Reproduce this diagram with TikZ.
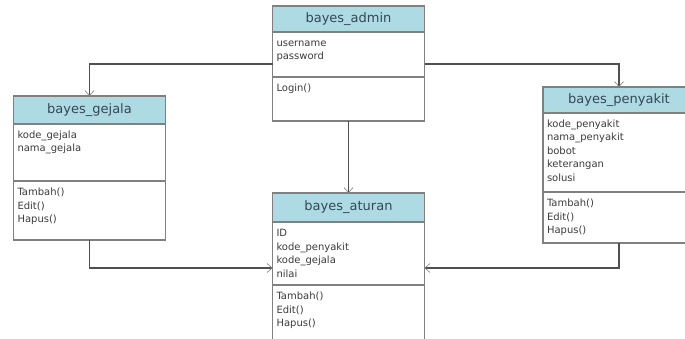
\documentclass[tikz,border=0pt]{standalone}
\usepackage{fontspec}
\setmainfont{DejaVu Sans}
\usetikzlibrary{positioning,arrows.meta}

\definecolor{headblue}{RGB}{174,218,228}
\definecolor{boxgray}{RGB}{128,128,128}
\definecolor{linegray}{RGB}{80,80,80}
\definecolor{titlegray}{RGB}{52,72,86}
\definecolor{textgray}{RGB}{60,60,60}

% compartment text: height, lines
\newcommand{\members}[2]{\parbox[t][#1][t]{144pt}{\rule{0pt}{14.5pt}#2}}

\tikzset{
  head/.style={draw=boxgray, fill=headblue, line width=1.2pt, minimum width=152pt,
    inner sep=0pt, outer sep=0pt, text=titlegray, font=\fontsize{13}{15}\selectfont},
  part/.style={draw=boxgray, fill=white, line width=1.2pt, inner xsep=4pt, inner ysep=0pt,
    outer sep=0pt, text=textgray, font=\fontsize{10}{13.5}\selectfont},
  link/.style={draw=linegray, line width=1.2pt,
    -{Straight Barb[length=5pt,width=9pt,line width=0.6pt,color=gray]}},
}

\begin{document}
\begin{tikzpicture}[x=1pt,y=1pt]
\clip (0,0) rectangle (685,-339);
\fill[white] (0,0) rectangle (685,-339);

\node (admin) [head, minimum height=26pt] at (348.5,-19) {bayes\_admin};
\node (adminAttr) [part, below=0pt of admin] {\members{45pt}{username\\password}};
\node (adminOps) [part, below=0pt of adminAttr] {\members{44pt}{Login()}};

\node (gejala) [head, minimum height=28pt] at (89.5,-110) {bayes\_gejala};
\node (gejalaAttr) [part, below=0pt of gejala] {\members{57pt}{kode\_gejala\\nama\_gejala}};
\node (gejalaOps) [part, below=0pt of gejalaAttr] {\members{59pt}{Tambah()\\Edit()\\Hapus()}};

\node (aturan) [head, minimum height=29pt] at (348.5,-207.5) {bayes\_aturan};
\node (aturanAttr) [part, below=0pt of aturan] {\members{63pt}{ID\\kode\_penyakit\\kode\_gejala\\nilai}};
\node (aturanOps) [part, below=0pt of aturanAttr] {\members{60pt}{Tambah()\\Edit()\\Hapus()}};

\node (penyakit) [head, minimum height=26pt] at (619,-100) {bayes\_penyakit};
\node (penyakitAttr) [part, below=0pt of penyakit] {\members{79pt}{kode\_penyakit\\nama\_penyakit\\bobot\\keterangan\\solusi}};
\node (penyakitOps) [part, below=0pt of penyakitAttr] {\members{51pt}{Tambah()\\Edit()\\Hapus()}};

\draw[link] ([yshift=-9.5pt]adminAttr.west) -| (gejala.north);
\draw[link] ([yshift=-9.5pt]adminAttr.east) -| (penyakit.north);
\draw[link] (adminOps.south) -- (aturan.north);
\draw[link] (gejalaOps.south) |- ([yshift=-14.5pt]aturanAttr.west);
\draw[link] (penyakitOps.south) |- ([yshift=-14.5pt]aturanAttr.east);
\end{tikzpicture}
\end{document}
